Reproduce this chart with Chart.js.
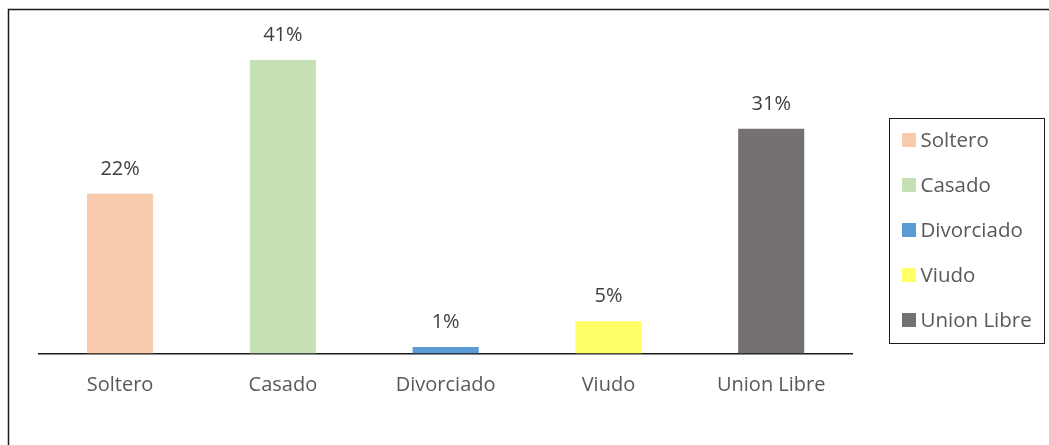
<!DOCTYPE html>
<html>
<head>
<meta charset="utf-8">
<script src="https://cdn.jsdelivr.net/npm/chart.js@4/dist/chart.umd.min.js"></script>
<style>
  html, body { margin: 0; padding: 0; background: #ffffff; }
  #wrap { position: relative; width: 1049px; height: 445px; }
</style>
</head>
<body>
<div id="wrap"><canvas id="c" width="1049" height="445"></canvas></div>
<script>
const categories = ["Soltero", "Casado", "Divorciado", "Viudo", "Union Libre"];
const values = [22.3, 41.0, 0.9, 4.5, 31.4];
const valueLabels = ["22%", "41%", "1%", "5%", "31%"];
const barColors = ["#F8CBAD", "#C5E0B4", "#5B9BD5", "#FFFF66", "#767171"];

const FONT = "'Open Sans', sans-serif";

const framePlugin = {
  id: 'frame',
  afterDraw(chart) {
    const ctx = chart.ctx;
    ctx.save();
    ctx.strokeStyle = '#1a1a1a';
    ctx.lineWidth = 1.5;
    ctx.beginPath();
    ctx.moveTo(8.5, 450);
    ctx.lineTo(8.5, 9.5);
    ctx.lineTo(1060, 9.5);
    ctx.stroke();
    ctx.restore();
  }
};

const labelPlugin = {
  id: 'valLabels',
  afterDatasetsDraw(chart) {
    const ctx = chart.ctx;
    const meta = chart.getDatasetMeta(0);
    ctx.save();
    ctx.font = "20px " + FONT;
    ctx.fillStyle = '#404040';
    ctx.textAlign = 'center';
    ctx.textBaseline = 'middle';
    meta.data.forEach((bar, i) => {
      ctx.fillText(valueLabels[i], bar.x, bar.y - 24.5);
    });
    ctx.restore();
  }
};

const legendPlugin = {
  id: 'boxLegend',
  afterDraw(chart) {
    const ctx = chart.ctx;
    const x0 = 889.5, y0 = 118.5, w = 155, h = 225;
    ctx.save();
    ctx.fillStyle = '#ffffff';
    ctx.fillRect(x0, y0, w, h);
    ctx.strokeStyle = '#1a1a1a';
    ctx.lineWidth = 1;
    ctx.strokeRect(x0, y0, w, h);
    ctx.font = "20.5px " + FONT;
    ctx.textAlign = 'left';
    ctx.textBaseline = 'middle';
    categories.forEach((name, i) => {
      const cy = 140 + i * 45;
      ctx.fillStyle = barColors[i];
      ctx.fillRect(902, cy - 7, 14, 14);
      ctx.fillStyle = '#595959';
      ctx.fillText(name, 920.5, cy + 1);
    });
    ctx.restore();
  }
};

new Chart(document.getElementById('c'), {
  type: 'bar',
  data: {
    labels: categories,
    datasets: [{
      data: values,
      backgroundColor: barColors,
      borderWidth: 0,
      categoryPercentage: 1.0,
      barPercentage: 0.406
    }]
  },
  options: {
    responsive: false,
    animation: false,
    layout: { padding: { left: 38.7, right: 196.4, top: 31.4, bottom: 27.6 } },
    plugins: { legend: { display: false }, tooltip: { enabled: false } },
    scales: {
      x: {
        grid: { display: false, drawTicks: false },
        border: { display: true, color: '#1a1a1a', width: 1.5 },
        ticks: { color: '#595959', font: { family: FONT, size: 20 }, padding: 20 }
      },
      y: {
        display: false,
        min: 0,
        max: 45
      }
    }
  },
  plugins: [framePlugin, labelPlugin, legendPlugin]
});
</script>
</body>
</html>
